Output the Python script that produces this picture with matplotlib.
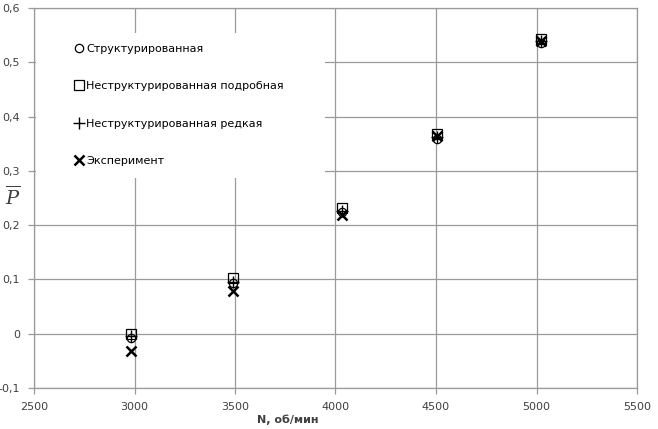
import matplotlib
matplotlib.use("Agg")
import matplotlib.pyplot as plt
from matplotlib.patches import Rectangle
from matplotlib.ticker import FuncFormatter, MultipleLocator

# частота вращения, об/мин
n_rpm = [2985, 3490, 4030, 4505, 5020]

# безразмерное давление P̄ для разных сеток и эксперимента
p_struct = [-0.007, 0.094, 0.225, 0.359, 0.535]
p_unstruct_fine = [0.0, 0.102, 0.232, 0.368, 0.543]
p_unstruct_coarse = [-0.005, 0.096, 0.226, 0.363, 0.540]
p_experiment = [-0.032, 0.079, 0.218, 0.365, 0.540]

labels = [
    "Структурированная",
    "Неструктурированная подробная",
    "Неструктурированная редкая",
    "Эксперимент",
]

plt.rcParams['font.family'] = ['DejaVu Sans']
plt.rcParams['mathtext.fontset'] = 'dejavuserif'

fig = plt.figure(figsize=(6.58, 4.29), dpi=100)
ax = fig.add_axes([34 / 658, 1 - 388 / 429, 603 / 658, 380 / 429])

grid_c = '#9a9a9a'
txt_c = '#404040'

ax.plot(n_rpm, p_struct, linestyle='none', marker='o', ms=6, mfc='white',
        mec='black', mew=0.9, label=labels[0], zorder=3)
ax.plot(n_rpm, p_unstruct_fine, linestyle='none', marker='s', ms=7.5, mfc='none',
        mec='black', mew=0.9, label=labels[1], zorder=4)
ax.plot(n_rpm, p_unstruct_coarse, linestyle='none', marker='+', ms=8,
        color='black', mew=1.0, label=labels[2], zorder=5)
ax.plot(n_rpm, p_experiment, linestyle='none', marker='x', ms=7.5,
        color='black', mew=1.8, label=labels[3], zorder=6)

ax.set_xlim(2500, 5500)
ax.set_ylim(-0.1, 0.6)
ax.xaxis.set_major_locator(MultipleLocator(500))
ax.yaxis.set_major_locator(MultipleLocator(0.1))

def fmt_y(v, pos):
    if abs(v) < 1e-9:
        return "0"
    return f"{v:.1f}".replace(".", ",")

ax.yaxis.set_major_formatter(FuncFormatter(fmt_y))
ax.xaxis.set_major_formatter(FuncFormatter(lambda v, p: f"{int(round(v))}"))

ax.grid(True, color=grid_c, linewidth=0.9, zorder=0)
ax.set_axisbelow(True)
for s in ax.spines.values():
    s.set_color(grid_c)
    s.set_linewidth(0.9)

ax.tick_params(axis='both', colors=grid_c, labelcolor=txt_c, labelsize=8,
               length=4, width=0.9, direction='out')
ax.tick_params(axis='x', pad=6)
ax.tick_params(axis='y', pad=6)

ax.set_xlabel("N, об/мин", fontsize=8, fontweight='bold', color=txt_c)
ax.xaxis.set_label_coords(0.42, -0.07)
ax.set_ylabel(r"$\overline{P}$", fontsize=14, rotation=0, color=txt_c,
              va='center', ha='center')
ax.yaxis.set_label_coords(-0.035, 0.503)

# белая подложка легенды поверх сетки
ax.add_patch(Rectangle((0.003, 0.553), 0.479, 0.382, transform=ax.transAxes,
                       facecolor='white', edgecolor='none', zorder=1))

leg = ax.legend(loc='upper left', bbox_to_anchor=(0.043, 0.943), frameon=False,
                fontsize=8, handlelength=0.9, handletextpad=0.15,
                labelspacing=2.45, borderpad=1.0, borderaxespad=0.3)
leg.set_zorder(2)

fig.savefig("out.png", dpi=100)
